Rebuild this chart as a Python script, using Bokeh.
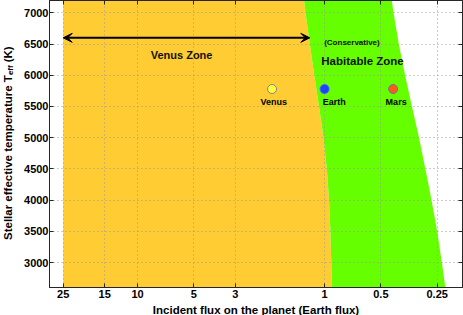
import math
from bokeh.plotting import figure
from bokeh.models import (Range1d, FixedTicker, LogAxis, LinearAxis, Label,
                          Arrow, VeeHead, ColumnDataSource, CustomLabelingPolicy)
from bokeh.embed import file_html
from bokeh.resources import INLINE

# ---------------- data ----------------
teff = [2600, 3000, 3500, 4000, 4500, 5000, 5500, 6000, 6500, 7000, 7200]
inner_flux = [0.913, 0.921, 0.931, 0.947, 0.973, 1.014, 1.072, 1.135, 1.200, 1.265, 1.287]
outer_flux = [0.226, 0.236, 0.250, 0.268, 0.289, 0.3125, 0.341, 0.371, 0.401, 0.428, 0.437]
venus_zone_flux = 25.0

planets = ["Venus", "Earth", "Mars"]
planet_flux = [1.91, 1.0, 0.43]
planet_teff = [5780, 5780, 5780]
planet_fill = ["#FFFF33", "#1E40FF", "#FF5A1A"]
planet_edge = ["#8080A8", "#4A64FF", "#7070A0"]

arrow_flux = [25.0, 1.2]
arrow_teff = 6600

x_ticks = [25, 15, 10, 5, 3, 1, 0.5, 0.25]
x_tick_labels = ["25", "15", "10", "5", "3", "1", "0.5", "0.25"]
y_ticks = [3000, 3500, 4000, 4500, 5000, 5500, 6000, 6500, 7000]
y_tick_labels = ["3000", "3500", "4000", "4500", "5000", "5500", "6000", "6500", "7000"]

x_label = "Incident flux on the planet (Earth flux)"
y_label_main = "Stellar effective temperature T"
y_label_sub = "eff"
y_label_unit = "(K)"

# ---------------- styling ----------------
FONT = "Liberation Sans"
ORANGE = "#FFCC33"
GREEN = "#66FF00"
AXCOL = "#262626"
GRIDCOL = "#999999"
NBSP = "\u00a0"

xr = Range1d(29.6, 0.183)
yr = Range1d(2600, 7198)

p = figure(width=463, height=315, x_axis_type="log", x_range=xr, y_range=yr,
           output_backend="svg", toolbar_location=None, title=None,
           min_border_left=49, min_border_right=1, min_border_top=0,
           min_border_bottom=28, background_fill_color="white",
           border_fill_color="white")
p.outline_line_color = AXCOL

# zones
venus_x = [venus_zone_flux, venus_zone_flux] + inner_flux[::-1] + [venus_zone_flux]
venus_y = [teff[0], teff[-1]] + teff[::-1] + [teff[0]]
p.patch(venus_x, venus_y, fill_color=ORANGE, line_color=None, level="image")

hz_x = inner_flux + outer_flux[::-1]
hz_y = teff + teff[::-1]
p.patch(hz_x, hz_y, fill_color=GREEN, line_color=None, level="image")

# axes
xax = p.below[0]
yax = p.left[0]
xax.ticker = FixedTicker(ticks=x_ticks)
xax.major_label_overrides = {float(t): lab for t, lab in zip(x_ticks, x_tick_labels)}
yax.ticker = FixedTicker(ticks=y_ticks)
yax.major_label_overrides = {float(t): lab for t, lab in zip(y_ticks, y_tick_labels)}
for ax, standoff in ((xax, 2), (yax, 1)):
    ax.major_label_text_font = FONT
    ax.major_label_text_font_size = "11px"
    ax.major_label_text_font_style = "bold"
    ax.major_label_text_color = "black"
    ax.major_label_standoff = standoff
    ax.major_tick_in = 4
    ax.major_tick_out = 0
    ax.minor_tick_line_color = None
    ax.axis_line_color = AXCOL
    ax.major_tick_line_color = AXCOL

no_labels = CustomLabelingPolicy(code="return new Set()")
top = LogAxis(ticker=FixedTicker(ticks=x_ticks))
right = LinearAxis(ticker=FixedTicker(ticks=y_ticks))
for ax in (top, right):
    ax.major_label_policy = no_labels
    ax.major_label_text_font_size = "0px"
    ax.major_label_standoff = 0
    ax.major_tick_in = 4
    ax.major_tick_out = 0
    ax.minor_tick_line_color = None
    ax.axis_line_color = AXCOL
    ax.major_tick_line_color = AXCOL
p.add_layout(top, "above")
p.add_layout(right, "right")

for g in (p.xgrid[0], p.ygrid[0]):
    g.grid_line_color = GRIDCOL
    g.grid_line_dash = "1 3"
    g.grid_line_width = 1

# planets
src = ColumnDataSource(dict(x=planet_flux, y=planet_teff, fill=planet_fill,
                            edge=planet_edge, name=planets))
p.scatter("x", "y", source=src, size=9, fill_color="fill", line_color="edge",
          line_width=1)

label_dx = [1.6, 9.6, 3.0]
for name, fx, ty, dx in zip(planets, planet_flux, planet_teff, label_dx):
    p.add_layout(Label(x=fx, y=ty, x_offset=dx, y_offset=-12.7, text=name,
                       text_align="center", text_baseline="middle",
                       text_font=FONT, text_font_size="9px",
                       text_font_style="bold", text_color="black"))

# arrow
p.add_layout(Arrow(start=VeeHead(size=9, fill_color="black", line_color="black"),
                   end=VeeHead(size=9, fill_color="black", line_color="black"),
                   x_start=arrow_flux[0], x_end=arrow_flux[1],
                   y_start=arrow_teff, y_end=arrow_teff,
                   line_width=2, line_color="black"))

# zone texts
def zlabel(text, x, y, size):
    p.add_layout(Label(x=x, y=y, text=text, text_align="center",
                       text_baseline="middle", text_font=FONT,
                       text_font_size=size, text_font_style="bold",
                       text_color="#111111"))

zlabel("Venus Zone", 5.82, 6332, "11px")
zlabel("(Conservative)", 0.714, 6519, "8px")
zlabel("Habitable Zone", 0.627, 6236, "11.5px")

# axis titles (labels placed in the side panels so they are not clipped)
def edge_label(text, dx, dy, size, align, side, angle=0.0):
    p.add_layout(Label(x=xr.start, y=yr.start, x_offset=dx, y_offset=dy,
                       text=text, text_align=align, text_baseline="middle",
                       angle=angle, text_font=FONT, text_font_size=size,
                       text_font_style="bold", text_color="black"), side)

edge_label(x_label, 206.5, -22, "11.5px", "center", "below")
# main title with a gap (non-breaking spaces) where the subscript sits
edge_label(y_label_main + NBSP * 4 + y_label_unit, -42, 47.5, "11.5px",
           "left", "left", math.pi / 2)
edge_label(y_label_sub, -39, 212.4, "8px", "left", "left", math.pi / 2)

open("out.html", "w").write(file_html(p, INLINE))
